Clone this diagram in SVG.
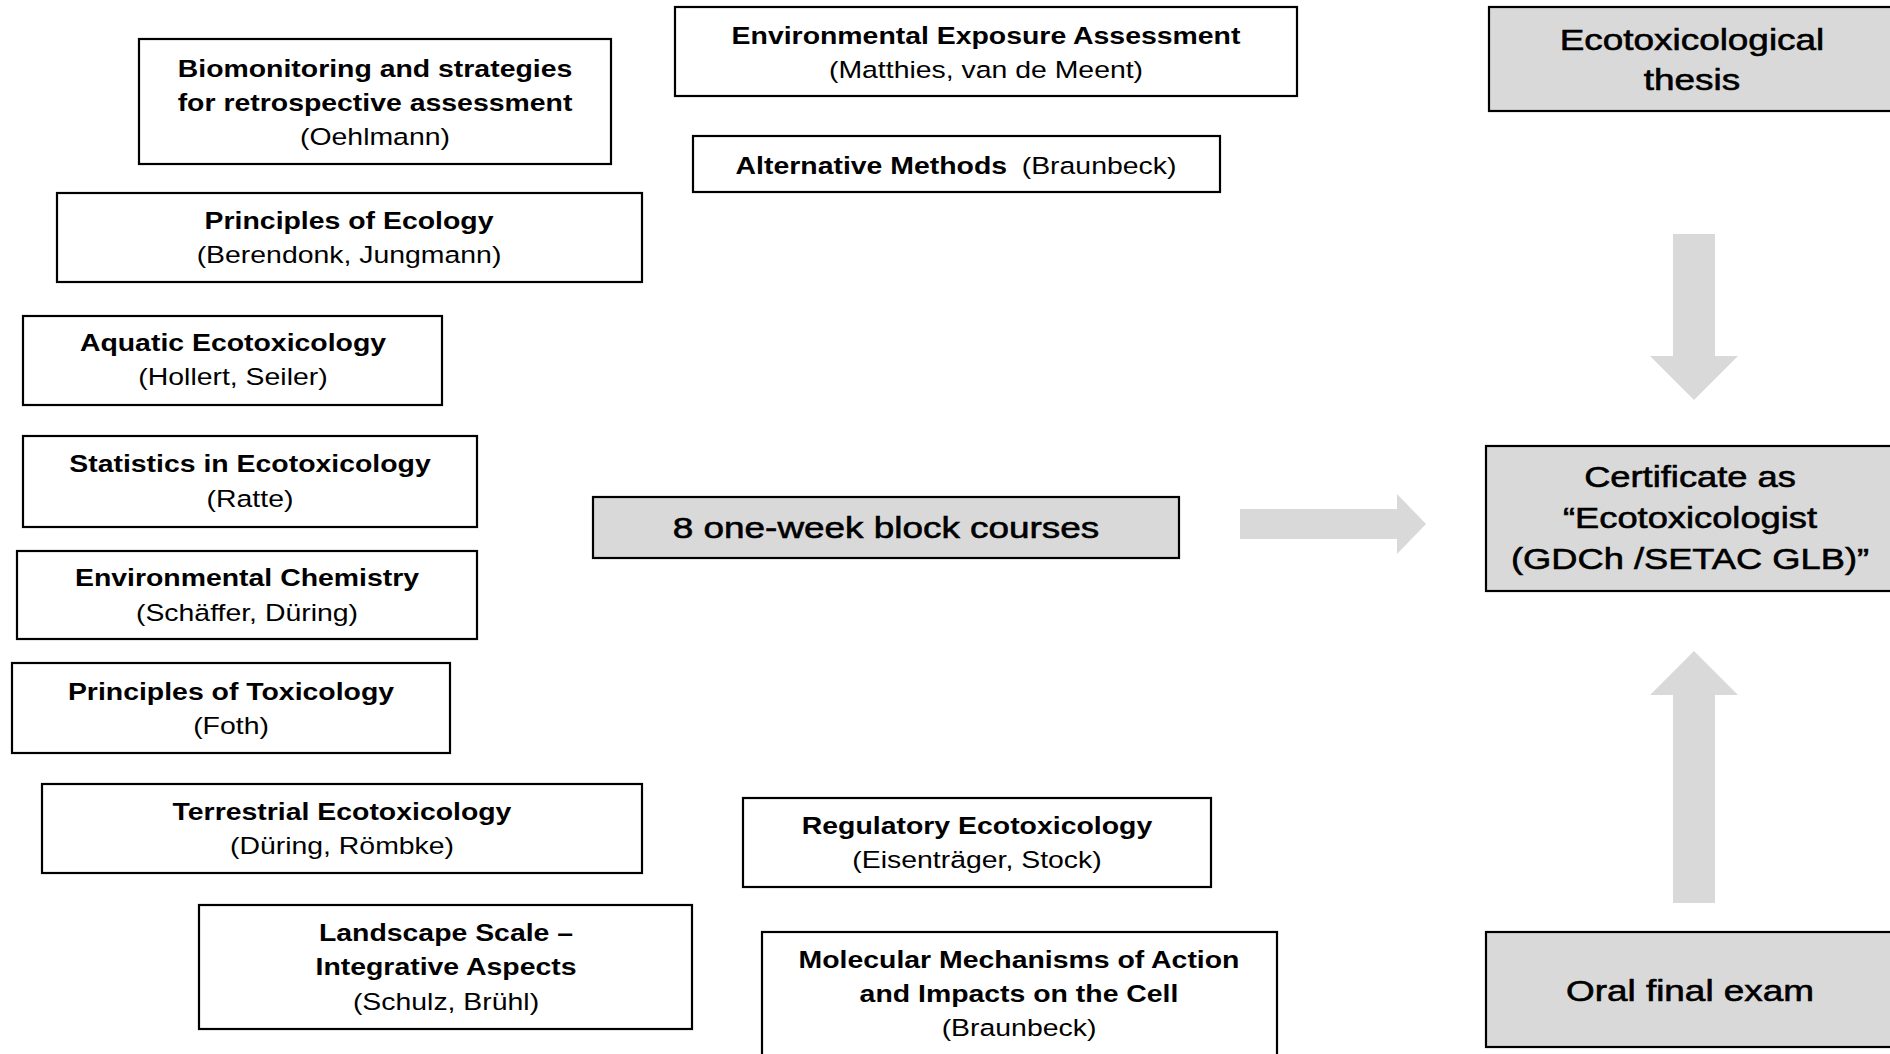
<svg xmlns="http://www.w3.org/2000/svg" width="1890" height="1054" viewBox="0 0 1890 1054">
<style>
.box{fill:#ffffff;stroke:#000;stroke-width:2.2}
.gbox{fill:#d9d9d9;stroke:#000;stroke-width:2.2}
text{font-family:"Liberation Sans",Arial,sans-serif;text-anchor:middle;fill:#000}
.b{font-size:23.3px;font-weight:bold}
.r{font-size:23.3px}
.big{font-size:30px;stroke:#000;stroke-width:0.6}
.arrow{fill:#d9d9d9;stroke:none}
</style>
<rect width="1890" height="1054" fill="#fff"/>
<g id="connectors">
<polygon class="arrow" points="1240,509 1397,509 1397,494 1426,524 1397,554 1397,539 1240,539"/>
<polygon class="arrow" points="1673,234 1715,234 1715,356 1738,356 1694,400 1650,356 1673,356"/>
<polygon class="arrow" points="1673,903 1715,903 1715,695 1738,695 1694,651 1650,695 1673,695"/>
</g>
<g id="biomonitoring">
<rect class="box" x="139" y="39" width="472" height="125"/>
<g transform="translate(375 0) scale(1.22 1)">
<text class="b" y="77">Biomonitoring and strategies</text>
<text class="b" y="111">for retrospective assessment</text>
<text class="r" y="145">(Oehlmann)</text>
</g>
</g>
<g id="exposure">
<rect class="box" x="675" y="7" width="622" height="89"/>
<g transform="translate(986 0) scale(1.22 1)">
<text class="b" y="44">Environmental Exposure Assessment</text>
<text class="r" y="78">(Matthies, van de Meent)</text>
</g>
</g>
<g id="alternative">
<rect class="box" x="693" y="136" width="527" height="56"/>
<g transform="translate(956 0) scale(1.22 1)">
<text y="174"><tspan class="b">Alternative Methods</tspan><tspan class="r" dx="12">(Braunbeck)</tspan></text>
</g>
</g>
<g id="ecology">
<rect class="box" x="57" y="193" width="585" height="89"/>
<g transform="translate(349 0) scale(1.22 1)">
<text class="b" y="229">Principles of Ecology</text>
<text class="r" y="263">(Berendonk, Jungmann)</text>
</g>
</g>
<g id="aquatic">
<rect class="box" x="23" y="316" width="419" height="89"/>
<g transform="translate(233 0) scale(1.22 1)">
<text class="b" y="351">Aquatic Ecotoxicology</text>
<text class="r" y="385">(Hollert, Seiler)</text>
</g>
</g>
<g id="statistics">
<rect class="box" x="23" y="436" width="454" height="91"/>
<g transform="translate(250 0) scale(1.22 1)">
<text class="b" y="472">Statistics in Ecotoxicology</text>
<text class="r" y="507">(Ratte)</text>
</g>
</g>
<g id="chemistry">
<rect class="box" x="17" y="551" width="460" height="88"/>
<g transform="translate(247 0) scale(1.22 1)">
<text class="b" y="586">Environmental Chemistry</text>
<text class="r" y="621">(Schäffer, Düring)</text>
</g>
</g>
<g id="toxicology">
<rect class="box" x="12" y="663" width="438" height="90"/>
<g transform="translate(231 0) scale(1.22 1)">
<text class="b" y="700">Principles of Toxicology</text>
<text class="r" y="734">(Foth)</text>
</g>
</g>
<g id="terrestrial">
<rect class="box" x="42" y="784" width="600" height="89"/>
<g transform="translate(342 0) scale(1.22 1)">
<text class="b" y="820">Terrestrial Ecotoxicology</text>
<text class="r" y="854">(Düring, Römbke)</text>
</g>
</g>
<g id="landscape">
<rect class="box" x="199" y="905" width="493" height="124"/>
<g transform="translate(446 0) scale(1.22 1)">
<text class="b" y="941">Landscape Scale –</text>
<text class="b" y="975">Integrative Aspects</text>
<text class="r" y="1010">(Schulz, Brühl)</text>
</g>
</g>
<g id="regulatory">
<rect class="box" x="743" y="798" width="468" height="89"/>
<g transform="translate(977 0) scale(1.22 1)">
<text class="b" y="834">Regulatory Ecotoxicology</text>
<text class="r" y="868">(Eisenträger, Stock)</text>
</g>
</g>
<g id="molecular">
<rect class="box" x="762" y="932" width="515" height="140"/>
<g transform="translate(1019 0) scale(1.22 1)">
<text class="b" y="968">Molecular Mechanisms of Action</text>
<text class="b" y="1002">and Impacts on the Cell</text>
<text class="r" y="1036">(Braunbeck)</text>
</g>
</g>
<g id="blockcourses">
<rect class="gbox" x="593" y="497" width="586" height="61"/>
<g transform="translate(886 0) scale(1.23 1)">
<text class="big" y="538">8 one-week block courses</text>
</g>
</g>
<g id="thesis">
<rect class="gbox" x="1489" y="7" width="420" height="104"/>
<g transform="translate(1692 0) scale(1.23 1)">
<text class="big" y="50">Ecotoxicological</text>
<text class="big" y="90">thesis</text>
</g>
</g>
<g id="certificate">
<rect class="gbox" x="1486" y="446" width="420" height="145"/>
<g transform="translate(1690 0) scale(1.21 1)">
<text class="big" y="487">Certificate as</text>
<text class="big" y="528">“Ecotoxicologist</text>
<text class="big" y="569">(GDCh /SETAC GLB)”</text>
</g>
</g>
<g id="oralexam">
<rect class="gbox" x="1486" y="932" width="420" height="115"/>
<g transform="translate(1690 0) scale(1.23 1)">
<text class="big" y="1001">Oral final exam</text>
</g>
</g>
</svg>
